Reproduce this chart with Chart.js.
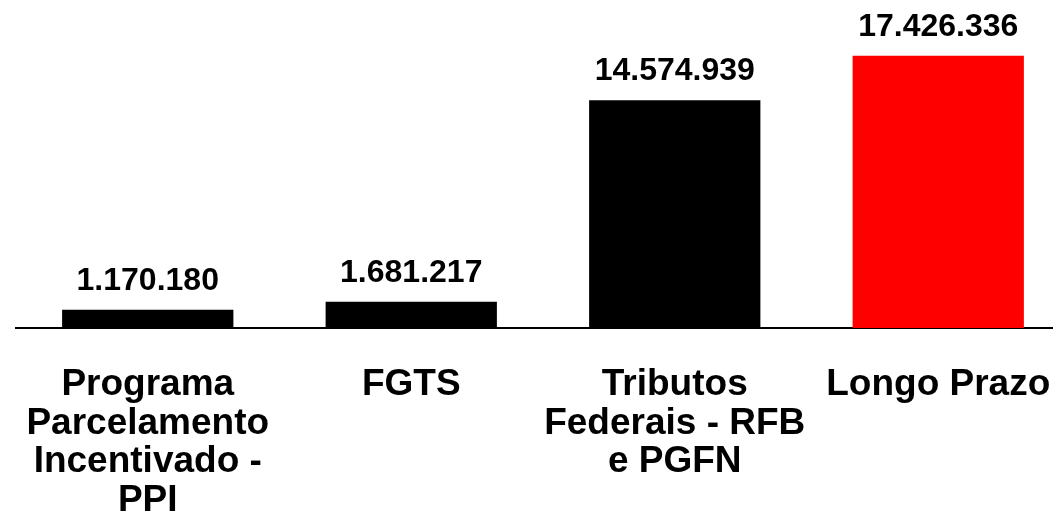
<!DOCTYPE html>
<html>
<head>
<meta charset="utf-8">
<script src="https://cdn.jsdelivr.net/npm/chart.js@4/dist/chart.umd.min.js"></script>
<style>
  html, body { margin: 0; padding: 0; background: #fff; overflow: hidden; }
  #wrap { width: 1070px; height: 525px; position: relative; }
</style>
</head>
<body>
<div id="wrap"><canvas id="myChart"></canvas></div>
<script>
// categories (already split into lines as in the picture)
const categories = [
    ['Programa', 'Parcelamento', 'Incentivado -', 'PPI'],
    ['FGTS'],
    ['Tributos', 'Federais - RFB', 'e PGFN'],
    ['Longo Prazo']
]
const values = [1170180, 1681217, 14574939, 17426336]
const valueLabels = ['1.170.180', '1.681.217', '14.574.939', '17.426.336']
const barColors = ['#000000', '#000000', '#000000', '#ff0000']

const fontFamily = '"Liberation Sans", Arial, sans-serif'

// draws the numbers above the bars
const valueLabelPlugin = {
    id: 'valueLabels',
    afterDatasetsDraw(chart) {
        const ctx = chart.ctx
        const meta = chart.getDatasetMeta(0)
        ctx.save()
        ctx.font = 'bold 32px ' + fontFamily
        ctx.fillStyle = '#000'
        ctx.textAlign = 'center'
        ctx.textBaseline = 'alphabetic'
        meta.data.forEach((bar, i) => {
            ctx.fillText(valueLabels[i], bar.x, bar.y - 20)
        })
        ctx.restore()
    }
}

const ctx = document.getElementById('myChart')

new Chart(ctx, {
    type: 'bar',
    data: {
        labels: categories,
        datasets: [{
            data: values,
            backgroundColor: barColors,
            borderWidth: 0,
            barPercentage: 0.65,
            categoryPercentage: 1
        }]
    },
    options: {
        responsive: true,
        maintainAspectRatio: false,
        animation: false,
        layout: {
            padding: { left: 16, right: 0, top: 0, bottom: 5 }
        },
        plugins: {
            legend: { display: false },
            tooltip: { enabled: false }
        },
        scales: {
            y: {
                display: false,
                min: 0,
                max: 21000000
            },
            x: {
                grid: { display: true, color: 'transparent', drawOnChartArea: false, drawTicks: true, tickLength: 38 },
                border: { display: true, color: '#000', width: 2 },
                ticks: {
                    color: '#000',
                    padding: 0,
                    autoSkip: false,
                    maxRotation: 0,
                    font: { family: fontFamily, size: 37, weight: 'bold', lineHeight: '38.5px' }
                }
            }
        }
    },
    plugins: [valueLabelPlugin]
})
</script>
</body>
</html>
